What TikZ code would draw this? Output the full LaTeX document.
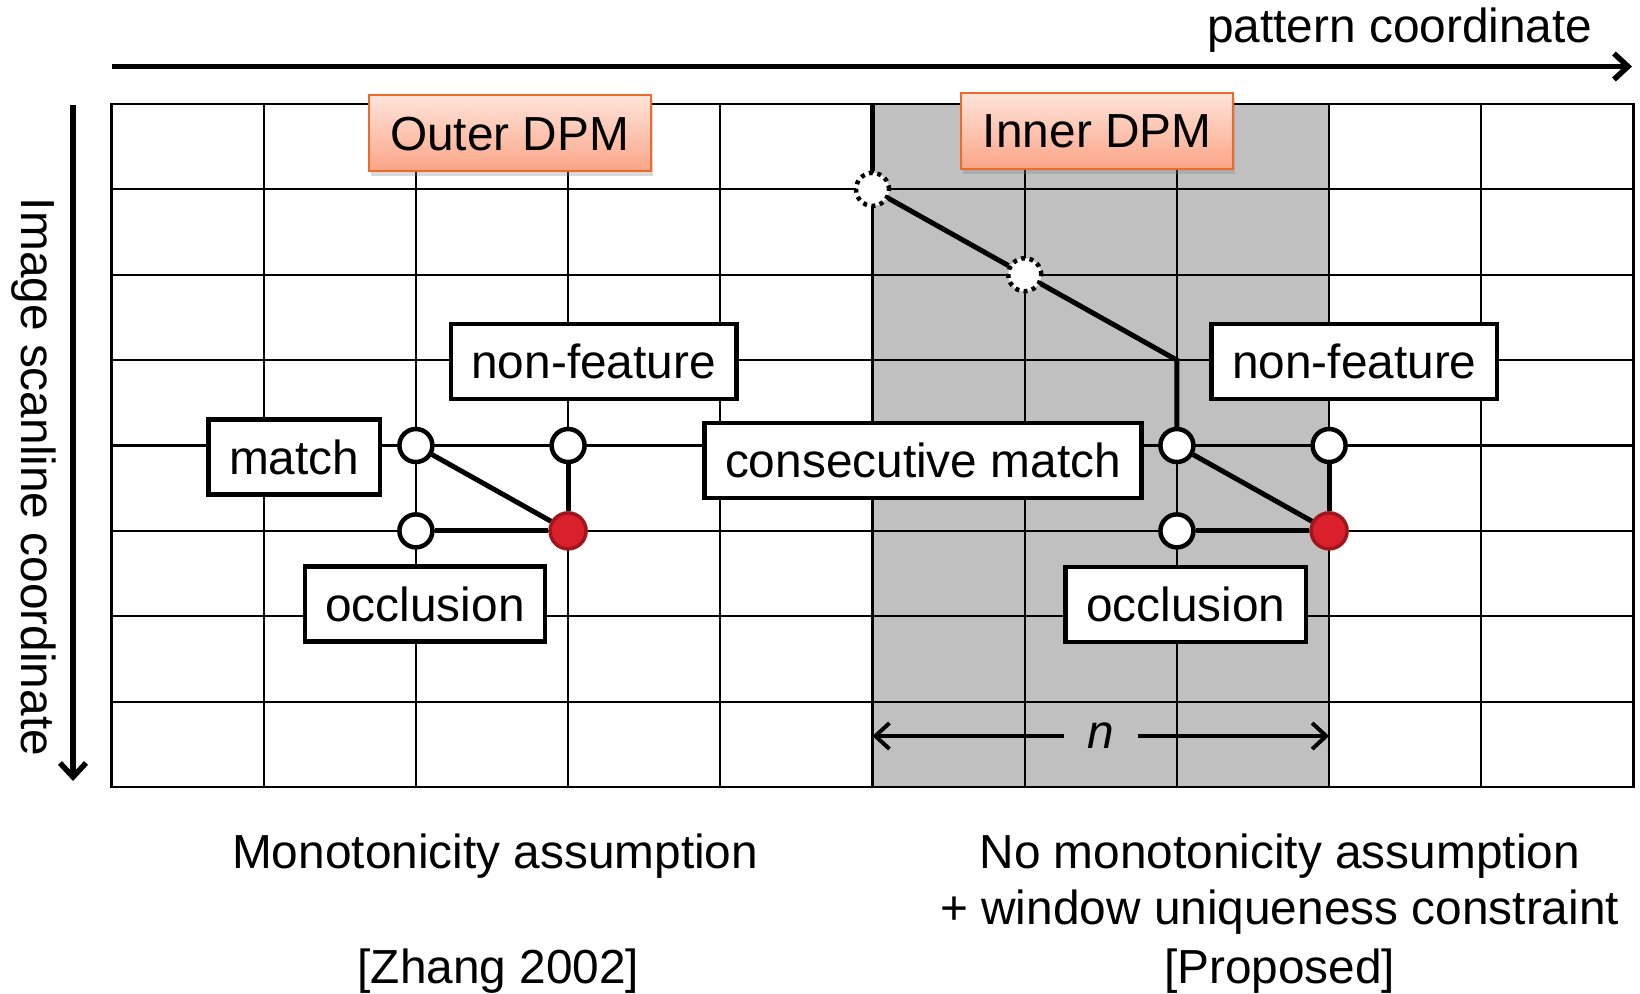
\documentclass[tikz,border=0pt]{standalone}
\usepackage{fontspec}
\setmainfont{Liberation Sans}
\usetikzlibrary{arrows.meta,shadows}

\definecolor{cellgray}{RGB}{192,192,192}
\definecolor{dpmtop}{RGB}{255,228,218}
\definecolor{dpmbot}{RGB}{250,165,135}
\definecolor{dpmedge}{RGB}{238,106,40}
\definecolor{redfill}{RGB}{217,32,43}
\definecolor{rededge}{RGB}{160,22,28}

\begin{document}
\begin{tikzpicture}[x=1pt,y=-1pt,
  font=\fontsize{47.8}{57}\selectfont,
  gridline/.style={line width=2.2pt},
  pathline/.style={line width=5pt},
  axis/.style={line width=5.5pt,-{Straight Barb[length=14pt,width=26pt]}},
  dimarrow/.style={line width=4pt,-{Straight Barb[length=14pt,width=26pt]}},
  circ/.style={circle,draw,line width=4.5pt,fill=white,inner sep=0pt,minimum size=33pt},
  dotcirc/.style={circle,draw,line width=4.5pt,fill=white,inner sep=0pt,minimum size=33pt,
    dash pattern=on 4pt off 4.5pt},
  redcirc/.style={circle,draw=rededge,line width=3.5pt,fill=redfill,inner sep=0pt,minimum size=36pt},
  lbl/.style={draw,line width=4.5pt,fill=white,inner xsep=20.5pt,inner ysep=0pt,
    minimum height=75pt,text height=34pt,text depth=0pt},
  dpm/.style={draw=dpmedge,line width=2pt,top color=dpmtop,bottom color=dpmbot,
    inner xsep=21.5pt,inner ysep=0pt,minimum height=76pt,text height=34pt,text depth=0pt,
    drop shadow={shadow xshift=2pt,shadow yshift=-5pt,opacity=0.3}},
  plain/.style={anchor=base,inner sep=0pt}
]
\useasboundingbox (0,0) rectangle (1640,993);

% grid points
\foreach \i in {0,...,10}{
  \foreach \j in {0,...,8}{
    \coordinate (g-\i-\j) at ({111.5+152.2*\i},{104+85.375*\j});
  }
}

% search window (shaded columns)
\fill[cellgray] (g-5-0) rectangle (g-8-8);

% grid
\foreach \i in {1,...,9} \draw[gridline] (g-\i-0) -- (g-\i-8);
\foreach \j in {1,...,7} \draw[gridline] (g-0-\j) -- (g-10-\j);
\draw[gridline] (g-0-0) rectangle (g-10-8);

% axes
\coordinate (hx0) at (111.5,66.5);
\coordinate (hx1) at (1632,66.5);
\draw[axis] (hx0) -- (hx1);
\coordinate (vy0) at (73,105);
\coordinate (vy1) at (73,781);
\draw[axis] (vy0) -- (vy1);
\node[anchor=base west,inner sep=0pt] (pc) at (1207,42) {pattern coordinate};
\node[rotate=-90,anchor=base,inner sep=0pt] (isc) at (21,477) {Image scanline coordinate};

% outer DPM cell
\node[circ] (lm) at (g-2-4) {};
\node[circ] (ln) at (g-3-4) {};
\node[circ] (lo) at (g-2-5) {};
\node[redcirc] (lr) at (g-3-5) {};
\draw[pathline] (lm) -- (lr);
\draw[pathline] (ln) -- (lr);
\draw[pathline] (lo) -- (lr);

% inner DPM path
\node[dotcirc] (d1) at (g-5-1) {};
\node[dotcirc] (d2) at (g-6-2) {};
\node[circ] (rm) at (g-7-4) {};
\node[circ] (rn) at (g-8-4) {};
\node[circ] (ro) at (g-7-5) {};
\node[redcirc] (rr) at (g-8-5) {};
\draw[pathline] (g-5-0) -- (d1);
\draw[pathline] (d1) -- (d2);
\draw[pathline] (d2) -- (g-7-3) -- (rm);
\draw[pathline] (rm) -- (rr);
\draw[pathline] (rn) -- (rr);
\draw[pathline] (ro) -- (rr);

% window width
\node[inner sep=0pt,minimum width=73.5pt,text height=24.8pt,text depth=0pt] (nl) at (1101,736) {\itshape n};
\coordinate (na) at (872.5,736);
\coordinate (nb) at (1329.1,736);
\draw[dimarrow] (nl) -- (na);
\draw[dimarrow] (nl) -- (nb);

% labels
\node[lbl] (nfl) at (593.6,361.3) {non-feature};
\node[lbl] (mt) at (294.2,457) {match};
\node[lbl] (ocl) at (425,604) {occlusion};
\node[lbl] (cm) at (923,460.5) {consecutive match};
\node[lbl] (nfr) at (1354.3,361.7) {non-feature};
\node[lbl] (ocr) at (1185.8,604.3) {occlusion};
\node[dpm] (odpm) at (509.7,133.2) {Outer DPM};
\node[dpm] (idpm) at (1097.2,130.8) {Inner DPM};

% captions
\node[plain] (capl1) at (495.2,868) {Monotonicity assumption};
\node[plain] (capl2) at (498.4,983) {[Zhang 2002]};
\node[plain] (capr1) at (1279.7,868) {No monotonicity assumption};
\node[plain] (capr2) at (1279.7,924) {+ window uniqueness constraint};
\node[plain] (capr3) at (1279.7,983) {[Proposed]};
\end{tikzpicture}
\end{document}
